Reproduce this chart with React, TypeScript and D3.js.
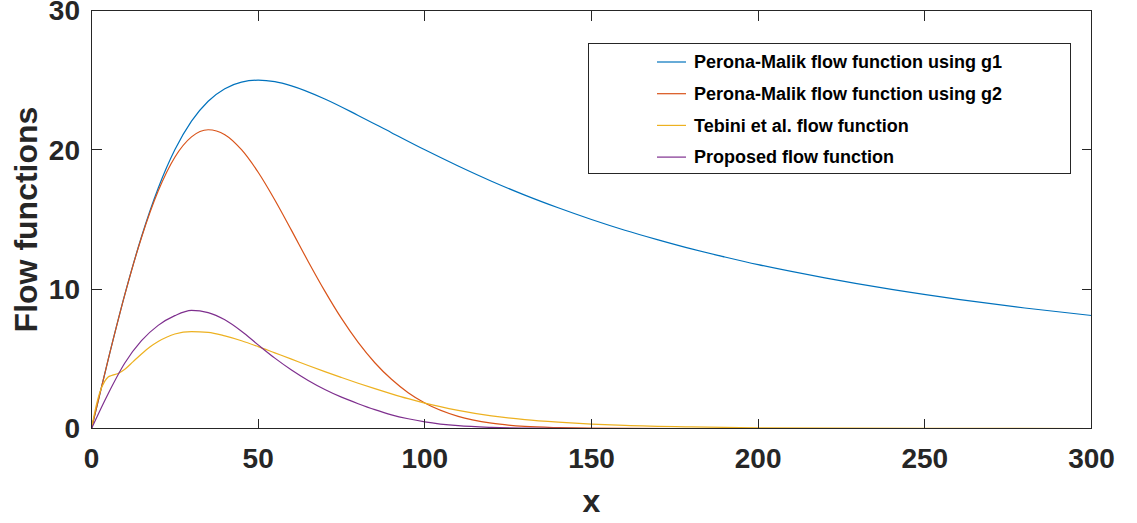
import React, { useEffect, useRef } from "react";
import * as d3 from "d3";

// sample positions along x (gradient magnitude)
const X_G1 = [0, 5, 10, 15, 20, 25, 30, 35, 40, 45, 50, 55, 60, 70, 80, 90, 100, 110, 120, 130, 140, 150, 160, 170, 180, 190, 200, 220, 240, 260, 280, 300];
const Y_G1 = [0, 4.95, 9.62, 13.76, 17.24, 20.0, 22.06, 23.49, 24.39, 24.86, 25.0, 24.89, 24.59, 23.65, 22.47, 21.23, 20.0, 18.84, 17.75, 16.75, 15.84, 15.0, 14.23, 13.54, 12.89, 12.31, 11.76, 10.81, 9.98, 9.27, 8.65, 8.11];

const X_G2 = [0, 5, 10, 15, 20, 25, 30, 35, 40, 45, 50, 55, 60, 65, 70, 75, 80, 85, 90, 95, 100, 110, 120, 130, 140, 150, 175, 200, 250, 300];
const Y_G2 = [0, 4.95, 9.61, 13.71, 17.04, 19.47, 20.93, 21.44, 21.09, 20.01, 18.39, 16.4, 14.22, 11.99, 9.86, 7.9, 6.18, 4.72, 3.53, 2.57, 1.83, 0.87, 0.38, 0.15, 0.06, 0.02, 0, 0, 0, 0];

const X_TEB = [0, 1, 2.5, 4, 5, 6, 8, 10, 12.5, 15, 17.5, 20, 22.5, 25, 30, 35, 40, 45, 50, 55, 60, 65, 70, 75, 80, 85, 90, 95, 100, 110, 120, 130, 140, 150, 160, 180, 200, 250, 300];
const Y_TEB = [0, 1.2, 2.6, 3.4, 3.7, 3.8, 3.95, 4.25, 4.8, 5.35, 5.85, 6.25, 6.55, 6.78, 6.95, 6.9, 6.65, 6.3, 5.88, 5.43, 4.98, 4.52, 4.08, 3.66, 3.25, 2.86, 2.49, 2.14, 1.82, 1.3, 0.9, 0.64, 0.46, 0.32, 0.22, 0.11, 0.05, 0.01, 0];

const X_PROP = [0, 5, 10, 15, 20, 25, 30, 35, 40, 45, 50, 55, 60, 65, 70, 75, 80, 85, 90, 95, 100, 110, 120, 130, 140, 150, 200, 250, 300];
const Y_PROP = [0, 2.5, 4.7, 6.3, 7.4, 8.1, 8.48, 8.32, 7.8, 6.98, 6.0, 5.05, 4.2, 3.45, 2.8, 2.25, 1.78, 1.35, 0.98, 0.7, 0.48, 0.2, 0.08, 0.03, 0.01, 0, 0, 0, 0];

const SERIES = [
  { name: "Perona-Malik flow function using g1", xs: X_G1, ys: Y_G1, color: "#0072BD" },
  { name: "Perona-Malik flow function using g2", xs: X_G2, ys: Y_G2, color: "#D95319" },
  { name: "Tebini et al. flow function", xs: X_TEB, ys: Y_TEB, color: "#EDB120" },
  { name: "Proposed flow function", xs: X_PROP, ys: Y_PROP, color: "#7E2F8E" },
];

const X_TICKS = [0, 50, 100, 150, 200, 250, 300];
const Y_TICKS = [0, 10, 20, 30];

const W = 1137, H = 523;
const FONT = "'Liberation Sans', Arial, Helvetica, sans-serif";
const AX = "#262626";

export default function App() {
  const svgRef = useRef<SVGSVGElement>(null);

  useEffect(() => {
    if (!svgRef.current) return;
    const svg = d3.select(svgRef.current);
    svg.selectAll("*").remove();

    const left = 91.5, right = 1091.5, top = 10.5, bottom = 428.5;
    const x = d3.scaleLinear().domain([0, 300]).range([left, right]);
    const y = d3.scaleLinear().domain([0, 30]).range([bottom, top]);

    svg.append("rect").attr("width", W).attr("height", H).attr("fill", "#fff");

    // --- curves ---
    const line = d3.line<[number, number]>()
      .x(d => x(d[0]))
      .y(d => y(d[1]))
      .curve(d3.curveMonotoneX);
    const lines = svg.append("g").attr("class", "curves");
    SERIES.forEach(s => {
      const pts = s.xs.map((v, i) => [v, s.ys[i]] as [number, number]);
      lines.append("path")
        .attr("d", line(pts))
        .attr("fill", "none")
        .attr("stroke", s.color)
        .attr("stroke-width", 1.2);
    });

    // --- axes box + ticks (inward, all four sides) ---
    const ax = svg.append("g").attr("stroke", AX).attr("stroke-width", 1).attr("shape-rendering", "crispEdges");
    ax.append("rect").attr("x", left).attr("y", top)
      .attr("width", right - left).attr("height", bottom - top).attr("fill", "none");
    const TL = 10;
    X_TICKS.forEach(t => {
      ax.append("line").attr("x1", x(t)).attr("x2", x(t)).attr("y1", bottom).attr("y2", bottom - TL);
      ax.append("line").attr("x1", x(t)).attr("x2", x(t)).attr("y1", top).attr("y2", top + TL);
    });
    Y_TICKS.forEach(t => {
      ax.append("line").attr("x1", left).attr("x2", left + TL).attr("y1", y(t)).attr("y2", y(t));
      ax.append("line").attr("x1", right).attr("x2", right - TL).attr("y1", y(t)).attr("y2", y(t));
    });

    // --- tick labels ---
    const labels = svg.append("g")
      .attr("font-family", FONT).attr("font-weight", "bold").attr("font-size", 28).attr("fill", AX);
    X_TICKS.forEach(t => {
      labels.append("text").attr("x", x(t)).attr("y", 468)
        .attr("text-anchor", "middle").text(t);
    });
    Y_TICKS.forEach(t => {
      labels.append("text").attr("x", 80).attr("y", y(t)).attr("dy", "0.35em")
        .attr("text-anchor", "end").text(t);
    });

    // --- axis titles ---
    svg.append("text")
      .attr("transform", `translate(37,${(top + bottom) / 2}) rotate(-90)`)
      .attr("text-anchor", "middle")
      .attr("font-family", FONT).attr("font-weight", "bold").attr("font-size", 32).attr("fill", AX)
      .text("Flow functions");
    svg.append("text")
      .attr("x", (left + right) / 2).attr("y", 512)
      .attr("text-anchor", "middle")
      .attr("font-family", FONT).attr("font-weight", "bold").attr("font-size", 32).attr("fill", AX)
      .text("x");

    // --- legend ---
    const lg = svg.append("g");
    lg.append("rect").attr("x", 588.5).attr("y", 43.5).attr("width", 482).attr("height", 130)
      .attr("fill", "#fff").attr("stroke", AX).attr("stroke-width", 1).attr("shape-rendering", "crispEdges");
    SERIES.forEach((s, i) => {
      const ry = 62 + i * 31.7;
      lg.append("line").attr("x1", 657).attr("x2", 686).attr("y1", ry).attr("y2", ry)
        .attr("stroke", s.color).attr("stroke-width", 1.2);
      lg.append("text").attr("x", 694).attr("y", ry).attr("dy", "0.35em")
        .attr("font-family", FONT).attr("font-weight", "bold").attr("font-size", 18).attr("fill", "#000")
        .text(s.name);
    });
  }, []);

  return (
    <svg ref={svgRef} width={W} height={H}
      style={{ position: "absolute", left: 0, top: 0, display: "block" }} />
  );
}
